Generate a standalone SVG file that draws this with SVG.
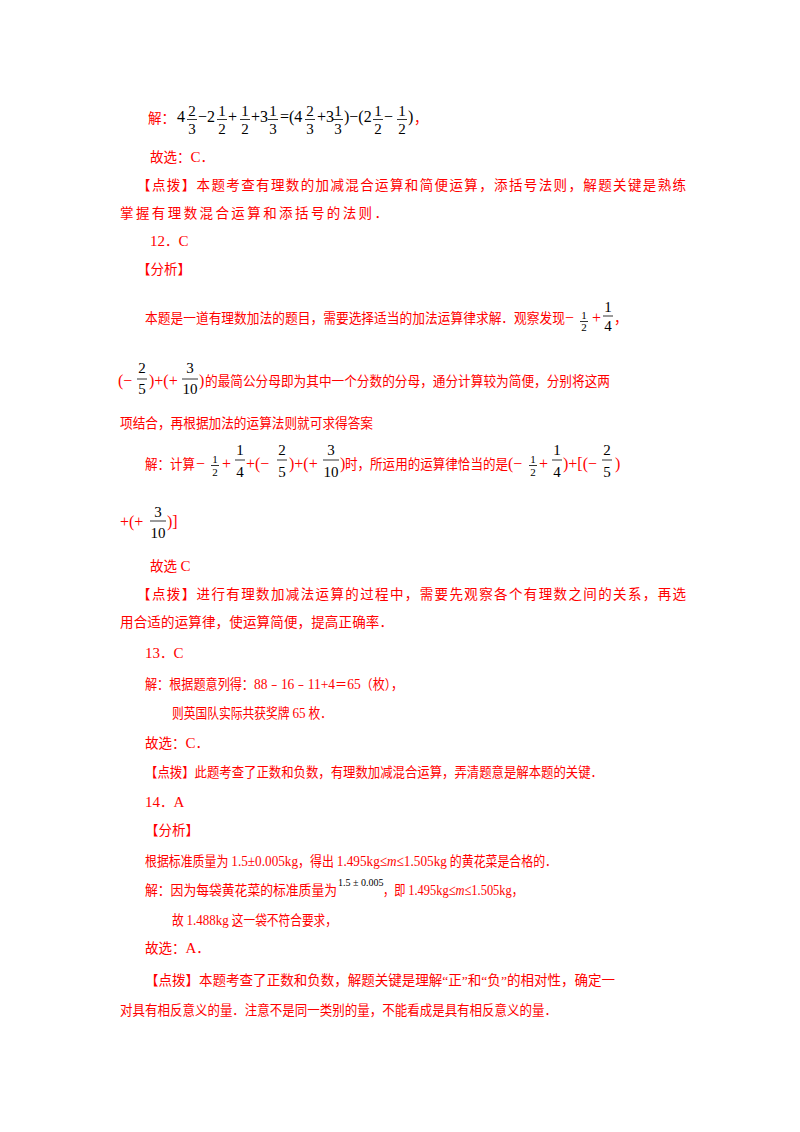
<svg xmlns="http://www.w3.org/2000/svg" width="800" height="1132" viewBox="0 0 800 1132">
<style>
.t{font-family:"Liberation Serif","Noto Sans CJK SC",serif;font-size:13.5px;fill:#f00}
.m{font-family:"Liberation Serif",serif;font-size:16px;fill:#000}
.f{font-family:"Liberation Serif",serif;font-size:15px;fill:#000;text-anchor:middle}
.s{font-family:"Liberation Serif",serif;font-size:11px;fill:#000;text-anchor:middle}
.b{stroke:#000;stroke-width:0.8}
.r{font-family:"Liberation Serif",serif;font-size:16px;fill:#f00}
.n{font-size:15px}
</style>
<rect width="800" height="1132" fill="#fff"/>
<g id="line1">
<text class="t" x="148" y="123">解：</text>
<text class="m" x="177" y="122">4</text>
<text class="f" x="192" y="116">2</text><line class="b" x1="187" y1="119.5" x2="197" y2="119.5"/><text class="f" x="192" y="134">3</text>
<text class="m" x="198" y="122">−2</text>
<text class="f" x="222" y="116">1</text><line class="b" x1="217" y1="119.5" x2="227" y2="119.5"/><text class="f" x="222" y="134">2</text>
<text class="m" x="228" y="122">+</text>
<text class="f" x="245" y="116">1</text><line class="b" x1="240" y1="119.5" x2="250" y2="119.5"/><text class="f" x="245" y="134">2</text>
<text class="m" x="251" y="122">+3</text>
<text class="f" x="273" y="116">1</text><line class="b" x1="268" y1="119.5" x2="278" y2="119.5"/><text class="f" x="273" y="134">3</text>
<text class="m" x="280" y="122">=(4</text>
<text class="f" x="310" y="116">2</text><line class="b" x1="305" y1="119.5" x2="315" y2="119.5"/><text class="f" x="310" y="134">3</text>
<text class="m" x="317" y="122">+3</text>
<text class="f" x="338" y="116">1</text><line class="b" x1="333" y1="119.5" x2="343" y2="119.5"/><text class="f" x="338" y="134">3</text>
<text class="m" x="344" y="122">)−(2</text>
<text class="f" x="378" y="116">1</text><line class="b" x1="373" y1="119.5" x2="383" y2="119.5"/><text class="f" x="378" y="134">2</text>
<text class="m" x="384" y="122">−</text>
<text class="f" x="402" y="116">1</text><line class="b" x1="397" y1="119.5" x2="407" y2="119.5"/><text class="f" x="402" y="134">2</text>
<text class="m" x="408" y="122">)</text>
<text class="t" x="414" y="123">，</text>
</g>
<g id="p11">
<text class="t" x="150" y="162">故选：<tspan class="n">C</tspan>．</text>
<text class="t" x="137" y="190" textLength="549" lengthAdjust="spacing">【点拨】本题考查有理数的加减混合运算和简便运算，添括号法则，解题关键是熟练</text>
<text class="t" x="120" y="218" textLength="268" lengthAdjust="spacing">掌握有理数混合运算和添括号的法则．</text>
</g>
<g id="p12">
<text class="t" x="150" y="246"><tspan class="n">12</tspan>．<tspan class="n">C</tspan></text>
<text class="t" x="137" y="274">【分析】</text>
<text class="t" x="145" y="323" textLength="420" lengthAdjust="spacingAndGlyphs">本题是一道有理数加法的题目，需要选择适当的加法运算律求解．观察发现</text>
<text class="r" x="565" y="323">−</text>
<text class="s" x="584" y="319">1</text><line class="b" x1="580" y1="321.5" x2="588" y2="321.5"/><text class="s" x="584" y="331">2</text>
<text class="r" x="592" y="323">+</text>
<text class="f" x="608" y="312">1</text><line class="b" x1="603" y1="316" x2="613" y2="316"/><text class="f" x="608" y="331">4</text>
<text class="t" x="614" y="323">，</text>

<text class="r" x="118" y="386">(−</text>
<text class="f" x="142" y="373">2</text><line class="b" x1="137" y1="379" x2="147" y2="379"/><text class="f" x="142" y="394">5</text>
<text class="r" x="149" y="386">)+(+</text>
<text class="f" x="190" y="373">3</text><line class="b" x1="182" y1="379" x2="198" y2="379"/><text class="f" x="190" y="394">10</text>
<text class="r" x="199" y="386">)</text>
<text class="t" x="205" y="386" textLength="405" lengthAdjust="spacingAndGlyphs">的最简公分母即为其中一个分数的分母，通分计算较为简便，分别将这两</text>
<text class="t" x="120" y="428" textLength="253" lengthAdjust="spacingAndGlyphs">项结合，再根据加法的运算法则就可求得答案</text>

<text class="t" x="145" y="469" textLength="50" lengthAdjust="spacingAndGlyphs">解：计算</text>
<text class="r" x="196" y="469">−</text>
<text class="s" x="215" y="463">1</text><line class="b" x1="211" y1="465.5" x2="219" y2="465.5"/><text class="s" x="215" y="476">2</text>
<text class="r" x="222" y="469">+</text>
<text class="f" x="240" y="455">1</text><line class="b" x1="235" y1="460" x2="245" y2="460"/><text class="f" x="240" y="477">4</text>
<text class="r" x="246" y="469">+(−</text>
<text class="f" x="282" y="455">2</text><line class="b" x1="277" y1="460" x2="287" y2="460"/><text class="f" x="282" y="477">5</text>
<text class="r" x="289" y="469">)+(+</text>
<text class="f" x="331" y="455">3</text><line class="b" x1="323" y1="460" x2="339" y2="460"/><text class="f" x="331" y="477">10</text>
<text class="r" x="340" y="469">)</text>
<text class="t" x="345" y="469" textLength="163" lengthAdjust="spacingAndGlyphs">时，所运用的运算律恰当的是</text>
<text class="r" x="508" y="469">(−</text>
<text class="s" x="533" y="463">1</text><line class="b" x1="529" y1="465.5" x2="537" y2="465.5"/><text class="s" x="533" y="476">2</text>
<text class="r" x="539" y="469">+</text>
<text class="f" x="557" y="455">1</text><line class="b" x1="552" y1="460" x2="562" y2="460"/><text class="f" x="557" y="477">4</text>
<text class="r" x="563" y="469">)+[(−</text>
<text class="f" x="607" y="455">2</text><line class="b" x1="602" y1="460" x2="612" y2="460"/><text class="f" x="607" y="477">5</text>
<text class="r" x="615" y="469">)</text>

<text class="r" x="120" y="527">+(+</text>
<text class="f" x="158" y="517">3</text><line class="b" x1="150" y1="521" x2="166" y2="521"/><text class="f" x="158" y="538">10</text>
<text class="r" x="167" y="527">)]</text>

<text class="t" x="150" y="571">故选 <tspan class="n">C</tspan></text>
<text class="t" x="137" y="599" textLength="549" lengthAdjust="spacing">【点拨】进行有理数加减法运算的过程中，需要先观察各个有理数之间的关系，再选</text>
<text class="t" x="120" y="627" textLength="273" lengthAdjust="spacing">用合适的运算律，使运算简便，提高正确率．</text>
</g>
<g id="p13">
<text class="t" x="145" y="658"><tspan class="n">13</tspan>．<tspan class="n">C</tspan></text>
<text class="t" x="145" y="689" textLength="258" lengthAdjust="spacingAndGlyphs">解：根据题意列得：<tspan class="n">88﹣16﹣11+4</tspan>＝<tspan class="n">65</tspan>（枚），</text>
<text class="t" x="172" y="718" textLength="160" lengthAdjust="spacingAndGlyphs">则英国队实际共获奖牌 <tspan class="n">65</tspan> 枚．</text>
<text class="t" x="145" y="748">故选：<tspan class="n">C</tspan>．</text>
<text class="t" x="145" y="777" textLength="458" lengthAdjust="spacingAndGlyphs">【点拨】此题考查了正数和负数，有理数加减混合运算，弄清题意是解本题的关键．</text>
</g>
<g id="p14">
<text class="t" x="145" y="807"><tspan class="n">14</tspan>．<tspan class="n">A</tspan></text>
<text class="t" x="145" y="835">【分析】</text>
<text class="t" x="145" y="866" textLength="412" lengthAdjust="spacingAndGlyphs">根据标准质量为 <tspan class="n">1.5±0.005kg</tspan>，得出 <tspan class="n">1.495kg≤<tspan font-style="italic">m</tspan>≤1.505kg</tspan> 的黄花菜是合格的．</text>
<text class="t" x="145" y="895" textLength="192" lengthAdjust="spacingAndGlyphs">解：因为每袋黄花菜的标准质量为</text>
<text style="font-family:'Liberation Serif',serif;font-size:10px;fill:#000" x="338" y="886">1.5 ± 0.005</text>
<text class="t" x="383" y="895" textLength="140" lengthAdjust="spacingAndGlyphs">，即 <tspan class="n">1.495kg≤<tspan font-style="italic">m</tspan>≤1.505kg</tspan>，</text>
<text class="t" x="172" y="925" textLength="165" lengthAdjust="spacingAndGlyphs">故 <tspan class="n">1.488kg</tspan> 这一袋不符合要求，</text>
<text class="t" x="145" y="953">故选：<tspan class="n">A</tspan>．</text>
<text class="t" x="145" y="985" textLength="470" lengthAdjust="spacingAndGlyphs">【点拨】本题考查了正数和负数，解题关键是理解“正”和“负”的相对性，确定一</text>
<text class="t" x="120" y="1015" textLength="437" lengthAdjust="spacingAndGlyphs">对具有相反意义的量．注意不是同一类别的量，不能看成是具有相反意义的量．</text>
</g>
</svg>
